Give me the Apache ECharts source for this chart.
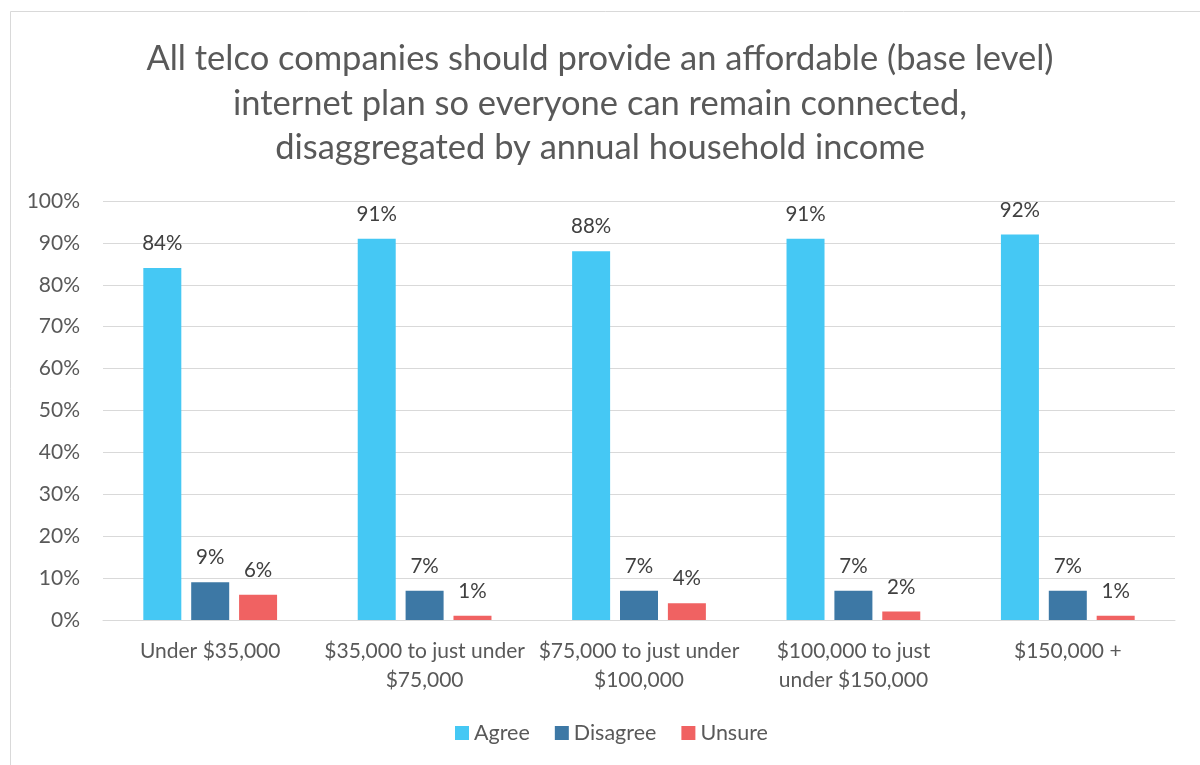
<!DOCTYPE html>
<html>
<head>
<meta charset="utf-8">
<script src="https://cdn.jsdelivr.net/npm/echarts@6/dist/echarts.min.js"></script>
<style>
  html, body { margin: 0; padding: 0; background: #ffffff; }
  #chart { width: 1200px; height: 765px; }
</style>
</head>
<body>
<div id="chart"></div>
<script>
// Income bands (x categories) and how each band's label wraps on the axis
const categories = [
  'Under $35,000',
  '$35,000 to just under $75,000',
  '$75,000 to just under $100,000',
  '$100,000 to just under $150,000',
  '$150,000 +'
];
const categoryLabels = [
  'Under $35,000',
  '$35,000 to just under\n$75,000',
  '$75,000 to just under\n$100,000',
  '$100,000 to just\nunder $150,000',
  '$150,000 +'
];

// Share of respondents (%) per answer
const agree    = [84, 91, 88, 91, 92];
const disagree = [9, 7, 7, 7, 7];
const unsure   = [6, 1, 4, 2, 1];

const yTicks = [0, 10, 20, 30, 40, 50, 60, 70, 80, 90, 100];

const FONT = 'Lato, "Liberation Sans", sans-serif';

const chart = echarts.init(document.getElementById('chart'));

function barSeries(name, data, color) {
  return {
    name: name,
    type: 'bar',
    data: data,
    barWidth: 38,
    barGap: '26%',
    itemStyle: { color: color },
    label: {
      show: true,
      position: 'top',
      distance: 14,
      formatter: '{c}%',
      fontFamily: FONT,
      fontSize: 20.5,
      color: '#404040'
    }
  };
}

chart.setOption({
  animation: false,
  backgroundColor: '#ffffff',
  graphic: [{
    type: 'rect',
    shape: { x: 10.5, y: 11.5, width: 1200, height: 760 },
    style: { fill: 'none', stroke: '#d9d9d9', lineWidth: 1 },
    silent: true
  }],
  title: {
    text: 'All telco companies should provide an affordable (base level)\ninternet plan so everyone can remain connected,\ndisaggregated by annual household income',
    left: 'center',
    top: 32,
    textStyle: {
      fontFamily: FONT,
      fontSize: 34.5,
      fontWeight: 'normal',
      color: '#595959',
      lineHeight: 44.5
    }
  },
  legend: {
    bottom: 16,
    left: 450,
    itemWidth: 14,
    itemHeight: 14,
    itemGap: 25,
    icon: 'rect',
    textStyle: { fontFamily: FONT, fontSize: 21.5, color: '#595959' }
  },
  grid: { left: 103, right: 25, top: 201, bottom: 145 },
  xAxis: {
    type: 'category',
    data: categories,
    axisTick: { show: false },
    axisLine: { show: true, lineStyle: { color: '#d9d9d9', width: 1 } },
    axisLabel: {
      interval: 0,
      margin: 17,
      fontFamily: FONT,
      fontSize: 21,
      color: '#595959',
      lineHeight: 29,
      formatter: (v, i) => categoryLabels[i]
    }
  },
  yAxis: {
    type: 'value',
    min: yTicks[0],
    max: yTicks[yTicks.length - 1],
    interval: 10,
    axisLine: { show: false },
    axisTick: { show: false },
    splitLine: { lineStyle: { color: '#d9d9d9', width: 1 } },
    axisLabel: {
      margin: 23,
      fontFamily: FONT,
      fontSize: 21,
      color: '#595959',
      formatter: '{value}%'
    }
  },
  series: [
    barSeries('Agree', agree, '#45C8F4'),
    barSeries('Disagree', disagree, '#3D78A5'),
    barSeries('Unsure', unsure, '#F06262')
  ]
});
</script>
</body>
</html>
